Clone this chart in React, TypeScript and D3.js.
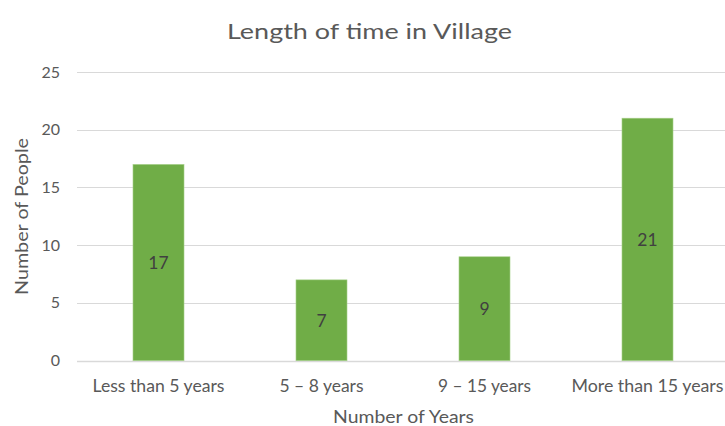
import React from "react";
import * as d3 from "d3";

const categories = ["Less than 5 years", "5 – 8 years", "9 – 15 years", "More than 15 years"];
const values = [17, 7, 9, 21];
const yTicks = [0, 5, 10, 15, 20, 25];

const W = 725;
const H = 426;
const FONT = "Lato, 'Open Sans', sans-serif";

export default function App() {
  const x = d3.scaleBand<string>().domain(categories).range([77, 729]).paddingInner(0.687).paddingOuter(0.3435);
  const y = d3.scaleLinear().domain([0, 25]).range([360.7, 72]);
  const tickLen = [132, 84, 93, 152];
  return (
    <svg width={W} height={H} style={{ position: "absolute", left: 0, top: 0, background: "#fff" }}>
      <rect x={0} y={0} width={W} height={H} fill="#fff" />
      <text x={369.5} y={39.3} textAnchor="middle" fontFamily={FONT} fontSize={22} fill="#595959" textLength={285} lengthAdjust="spacingAndGlyphs">
        Length of time in Village
      </text>
      {yTicks.map((t) => (
        <g key={t}>
          <line x1={77} x2={729} y1={Math.round(y(t)) + 0.5} y2={Math.round(y(t)) + 0.5} stroke="#d9d9d9" strokeWidth={t === 0 ? 1.5 : 1.2} />
          <text x={60} y={y(t) + 5.5} textAnchor="end" fontFamily={FONT} fontSize={16} fill="#595959">
            {t}
          </text>
        </g>
      ))}
      {categories.map((c, i) => (
        <g key={c}>
          <rect x={x(c)!} y={y(values[i])} width={x.bandwidth()} height={y(0) - y(values[i])} fill="#70AD47" stroke="#a9d18e" strokeWidth={0.6} />
          <text x={x(c)! + x.bandwidth() / 2} y={(y(values[i]) + y(0)) / 2 + 6.5} textAnchor="middle" fontFamily={FONT} fontSize={17.5} fill="#404040">
            {values[i]}
          </text>
          <text x={x(c)! + x.bandwidth() / 2} y={391.7} textAnchor="middle" fontFamily={FONT} fontSize={16.3} fill="#595959" textLength={tickLen[i]} lengthAdjust="spacingAndGlyphs">
            {c}
          </text>
        </g>
      ))}
      <text x={403.5} y={423.3} textAnchor="middle" fontFamily={FONT} fontSize={16.3} fill="#595959" textLength={141} lengthAdjust="spacingAndGlyphs">
        Number of Years
      </text>
      <text transform={`translate(28.3,216.5) rotate(-90)`} textAnchor="middle" fontFamily={FONT} fontSize={16.3} fill="#595959" textLength={157} lengthAdjust="spacingAndGlyphs">
        Number of People
      </text>
    </svg>
  );
}
